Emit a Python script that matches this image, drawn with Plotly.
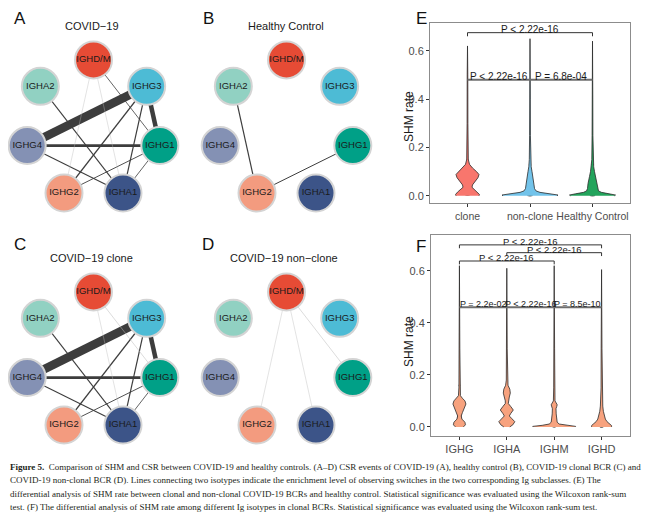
import numpy as np
import plotly.graph_objects as go

# page body has an 8px margin: the figure is drawn from (8, 8) of the window
OFF = 8
W, H = 650 - OFF, 512 - OFF

# ---------------- data ----------------
nodes = ["IGHD/M", "IGHG3", "IGHG1", "IGHA1", "IGHG2", "IGHG4", "IGHA2"]
node_colors = ["#E64B35", "#4DBBD5", "#00A087", "#3C5488", "#F39B7F", "#8491B4", "#91D1C2"]

edges_covid = [("IGHG4", "IGHG3", 8.5), ("IGHG3", "IGHG1", 4.5), ("IGHG4", "IGHG1", 2.6),
               ("IGHG3", "IGHG2", 1.4), ("IGHG3", "IGHA1", 1.2), ("IGHA2", "IGHA1", 1.1),
               ("IGHG4", "IGHA1", 1.1), ("IGHG1", "IGHG2", 0.9), ("IGHG1", "IGHA1", 0.8),
               ("IGHD/M", "IGHG1", 0.8), ("IGHD/M", "IGHG2", 0.4), ("IGHD/M", "IGHA1", 0.4)]
edges_healthy = [("IGHA2", "IGHG2", 1.2), ("IGHG1", "IGHG2", 1.0)]
edges_clone = [("IGHG4", "IGHG3", 8.5), ("IGHG3", "IGHG1", 4.5), ("IGHG4", "IGHG1", 2.6),
               ("IGHG3", "IGHG2", 1.4), ("IGHG3", "IGHA1", 1.2), ("IGHA2", "IGHA1", 1.1),
               ("IGHG4", "IGHA1", 1.1), ("IGHG1", "IGHG2", 0.9), ("IGHG1", "IGHA1", 0.8),
               ("IGHD/M", "IGHG1", 0.5), ("IGHD/M", "IGHA1", 0.4)]
edges_nonclone = [("IGHD/M", "IGHG2", 0.4), ("IGHD/M", "IGHA1", 0.4), ("IGHD/M", "IGHG1", 0.5)]

# Panel E: SHM rate violins (levels and relative half-width density)
e_groups = ["clone", "non-clone", "Healthy Control"]
e_colors = ["#F8766D", "#72C3EA", "#23A45C"]
clone_lvl = [0.0, 0.005, 0.015, 0.025, 0.035, 0.045, 0.06, 0.075, 0.088, 0.1, 0.115, 0.13, 0.15, 0.2, 0.3, 0.5, 0.62]
clone_den = [11.5, 12, 10, 7, 4.5, 5, 8, 10.5, 11.5, 9, 5, 2, 0.8, 0.5, 0.4, 0.3, 0.0]
nonclone_lvl = [0.0, 0.003, 0.008, 0.014, 0.02, 0.03, 0.045, 0.06, 0.08, 0.1, 0.12, 0.15, 0.25, 0.4, 0.65]
nonclone_den = [27, 28, 20, 10, 6, 4.5, 4, 3.6, 3, 2, 1.2, 0.7, 0.4, 0.3, 0.0]
hc_lvl = [0.0, 0.003, 0.008, 0.014, 0.02, 0.03, 0.05, 0.065, 0.08, 0.1, 0.12, 0.15, 0.25, 0.4, 0.64]
hc_den = [22, 23, 17, 9, 6, 5, 4.5, 4, 3, 2, 1.2, 0.7, 0.4, 0.3, 0.0]
e_q1 = [0.003, 0.0, 0.0]
e_med = [0.03, 0.005, 0.01]
e_q3 = [0.085, 0.055, 0.057]
e_upper = [0.15, 0.13, 0.13]
e_pairs = [(0, 2, 0.675, "P < 2.22e-16")]
e_flat = [(0, 1, 0.48, "P < 2.22e-16"), (1, 2, 0.48, "P = 6.8e-04")]

# Panel F: SHM rate by isotype in clonal BCRs
f_groups = ["IGHG", "IGHA", "IGHM", "IGHD"]
f_color = "#F7A27E"
ighg_lvl = [0.0, 0.008, 0.018, 0.03, 0.042, 0.055, 0.07, 0.088, 0.1, 0.11, 0.12, 0.15, 0.3, 0.62]
ighg_den = [4, 6, 5.5, 2.5, 1.8, 3, 5, 6.5, 5.5, 3, 1, 0.5, 0.4, 0.0]
igha_lvl = [0.0, 0.008, 0.02, 0.032, 0.042, 0.052, 0.065, 0.078, 0.09, 0.1, 0.115, 0.13, 0.145, 0.16, 0.18, 0.3, 0.61]
igha_den = [3, 6, 8, 5, 2.5, 4, 6.5, 4, 1.5, 1.5, 2.5, 3.5, 3, 1.2, 0.5, 0.4, 0.0]
ighm_lvl = [0.0, 0.002, 0.006, 0.011, 0.018, 0.03, 0.05, 0.07, 0.078, 0.085, 0.092, 0.1, 0.15, 0.3, 0.62]
ighm_den = [21, 21.5, 12, 5, 3, 2.5, 2, 1.8, 2.5, 3, 2, 0.8, 0.5, 0.4, 0.0]
ighd_lvl = [0.0, 0.005, 0.012, 0.02, 0.03, 0.045, 0.06, 0.08, 0.1, 0.15, 0.3, 0.605]
ighd_den = [10, 10, 8, 5.5, 3.8, 2.5, 1.8, 1.2, 0.8, 0.5, 0.4, 0.0]
f_q1 = [0.01, 0.02, 0.0, 0.0]
f_med = [0.07, 0.06, 0.01, 0.0]
f_q3 = [0.095, 0.07, 0.035, 0.003]
f_upper = [0.16, 0.15, 0.08, 0.01]
f_pairs = [(0, 3, 0.70, "P < 2.22e-16"), (1, 3, 0.67, "P < 2.22e-16"), (0, 2, 0.638, "P < 2.22e-16")]
f_flat = [(0, 1, 0.46, "P = 2.2e-02"), (1, 2, 0.46, "P < 2.22e-16"), (2, 3, 0.46, "P = 8.5e-10")]

caption_lines = [
    "<b>Figure 5.</b>  Comparison of SHM and CSR between COVID-19 and healthy controls. (A–D) CSR events of COVID-19 (A), healthy control (B), COVID-19 clonal BCR (C) and",
    "COVID-19 non-clonal BCR (D). Lines connecting two isotypes indicate the enrichment level of observing switches in the two corresponding Ig subclasses. (E) The",
    "differential analysis of SHM rate between clonal and non-clonal COVID-19 BCRs and healthy control. Statistical significance was evaluated using the Wilcoxon rank-sum",
    "test. (F) The differential analysis of SHM rate among different Ig isotypes in clonal BCRs. Statistical significance was evaluated using the Wilcoxon rank-sum test.",
]

# ---------------- helpers ----------------
def fx(p):
    return (p - OFF) / W

def fy(p):
    return 1 - (p - OFF) / H

FONT = "Liberation Sans, Arial, sans-serif"
fig = go.Figure()
annotations = []
layout = {}

# circular layout of nodes (clockwise from top)
theta = 2 * np.pi * np.arange(len(nodes)) / len(nodes)
node_x = np.sin(theta)
node_y = np.cos(theta)
pos = {n: (node_x[i], node_y[i]) for i, n in enumerate(nodes)}

RX, RY, HALF = 68.0, 70.0, 85.0
panels = [
    (1, edges_covid, "COVID−19", "A", 93.5, 130, (92, 26), (20, 8)),
    (2, edges_healthy, "Healthy Control", "B", 286.5, 130, (286, 26), (208, 8)),
    (3, edges_clone, "COVID−19 clone", "C", 93.5, 362, (92, 258), (20, 234)),
    (4, edges_nonclone, "COVID−19 non−clone", "D", 286.5, 362, (284, 258), (208, 234)),
]
for k, edges, title, letter, cx, cy, tpos, lpos in panels:
    xa = "x" if k == 1 else f"x{k}"
    ya = "y" if k == 1 else f"y{k}"
    for a, b, w in edges:
        col = "#b8b8b8" if w < 0.6 else "#3d3d3d"
        fig.add_trace(go.Scatter(x=[pos[a][0], pos[b][0]], y=[pos[a][1], pos[b][1]], mode="lines",
                                 line=dict(color=col, width=w), xaxis=xa, yaxis=ya,
                                 showlegend=False, hoverinfo="skip"))
    fig.add_trace(go.Scatter(x=node_x, y=node_y, mode="markers+text", text=nodes,
                             textposition="middle center",
                             textfont=dict(family=FONT, size=9.5, color="#1a1a1a"),
                             marker=dict(size=37, color=node_colors, line=dict(color="#d4d4d4", width=2)),
                             xaxis=xa, yaxis=ya, showlegend=False, cliponaxis=False, hoverinfo="text"))
    kx = "xaxis" if k == 1 else f"xaxis{k}"
    ky = "yaxis" if k == 1 else f"yaxis{k}"
    layout[kx] = dict(domain=[fx(cx - HALF), fx(cx + HALF)], range=[-HALF / RX, HALF / RX],
                      visible=False, anchor=ya)
    layout[ky] = dict(domain=[fy(cy + HALF), fy(cy - HALF)], range=[-HALF / RY, HALF / RY],
                      visible=False, anchor=xa)
    annotations.append(dict(x=fx(tpos[0]), y=fy(tpos[1]), xref="paper", yref="paper", text=title,
                            showarrow=False, font=dict(family=FONT, size=11, color="#1a1a1a"),
                            xanchor="center", yanchor="middle"))
    annotations.append(dict(x=fx(lpos[0]), y=fy(lpos[1]), xref="paper", yref="paper", text=letter,
                            showarrow=False, font=dict(family=FONT, size=17, color="#111"),
                            xanchor="center", yanchor="top", borderpad=0))


def add_violins(levels, dens, colors, q1, med, q3, upper, xa, ya, scale):
    for i, (lv, dn) in enumerate(zip(levels, dens)):
        lv = np.asarray(lv)
        hw = np.asarray(dn) * scale
        xs = np.concatenate([i - hw, (i + hw)[::-1]])
        ys = np.concatenate([lv, lv[::-1]])
        fig.add_trace(go.Scatter(x=xs, y=ys, mode="lines", fill="toself", fillcolor=colors[i],
                                 line=dict(color="#2b2b2b", width=0.8), xaxis=xa, yaxis=ya,
                                 showlegend=False, hoverinfo="skip"))
    for i in range(len(levels)):
        fig.add_trace(go.Box(x=[i], q1=[q1[i]], median=[med[i]], q3=[q3[i]], lowerfence=[q1[i]],
                             upperfence=[upper[i]], width=0.07, fillcolor="white",
                             line=dict(color="#333333", width=0.8), boxpoints=False,
                             xaxis=xa, yaxis=ya, showlegend=False, hoverinfo="skip"))


def add_brackets(pairs, flat, xa, ya, tick, size_top, size_flat):
    for a, b, yv, txt in pairs:
        fig.add_trace(go.Scatter(x=[a, a, b, b], y=[yv - tick, yv, yv, yv - tick], mode="lines",
                                 line=dict(color="#333333", width=1), xaxis=xa, yaxis=ya,
                                 showlegend=False, hoverinfo="skip"))
        annotations.append(dict(x=(a + b) / 2, y=yv, xref=xa, yref=ya, text=txt, showarrow=False,
                                yanchor="bottom", yshift=-3, borderpad=0,
                                font=dict(family=FONT, size=size_top, color="#1a1a1a")))
    xs = [min(p[0] for p in flat), max(p[1] for p in flat)]
    fig.add_trace(go.Scatter(x=xs, y=[flat[0][2]] * 2, mode="lines", line=dict(color="#6e6e6e", width=2),
                             xaxis=xa, yaxis=ya, showlegend=False, hoverinfo="skip"))
    for a, b, yv, txt in flat:
        annotations.append(dict(x=(a + b) / 2, y=yv, xref=xa, yref=ya, text=txt, showarrow=False,
                                yanchor="bottom", yshift=-3, borderpad=0,
                                font=dict(family=FONT, size=size_flat, color="#1a1a1a")))


add_violins([clone_lvl, nonclone_lvl, hc_lvl], [clone_den, nonclone_den, hc_den], e_colors,
            e_q1, e_med, e_q3, e_upper, "x5", "y5", 1 / 62.5)
add_brackets(e_pairs, e_flat, "x5", "y5", 0.015, 10, 10)
add_violins([ighg_lvl, igha_lvl, ighm_lvl, ighd_lvl], [ighg_den, igha_den, ighm_den, ighd_den],
            [f_color] * 4, f_q1, f_med, f_q3, f_upper, "x6", "y6", 1 / 47.4)
add_brackets(f_pairs, f_flat, "x6", "y6", 0.013, 9.5, 9)

axis_common = dict(showline=True, mirror=True, linecolor="#8c8c8c", linewidth=1, showgrid=False,
                   zeroline=False, ticks="outside", ticklen=3, tickcolor="#333333",
                   tickfont=dict(family=FONT, size=11, color="#4d4d4d"))
layout["xaxis5"] = dict(axis_common, domain=[fx(430), fx(630)], range=[-0.6, 2.6], anchor="y5",
                        tickvals=[0, 1, 2], ticktext=e_groups,
                        tickfont=dict(family=FONT, size=10.5, color="#4d4d4d"))
layout["yaxis5"] = dict(axis_common, domain=[fy(203), fy(23)], range=[-0.03, 0.715], anchor="x5",
                        tickvals=[0, 0.2, 0.4, 0.6], ticktext=["0.0", "0.2", "0.4", "0.6"])
layout["xaxis6"] = dict(axis_common, domain=[fx(431), fx(630)], range=[-0.6, 3.6], anchor="y6",
                        tickvals=[0, 1, 2, 3], ticktext=f_groups)
layout["yaxis6"] = dict(axis_common, domain=[fy(436), fy(235)], range=[-0.035, 0.738], anchor="x6",
                        tickvals=[0, 0.2, 0.4, 0.6], ticktext=["0.0", "0.2", "0.4", "0.6"])

for txt, yy in [("SHM rate", 117), ("SHM rate", 342)]:
    annotations.append(dict(x=fx(409), y=fy(yy), xref="paper", yref="paper", text=txt, textangle=-90,
                            showarrow=False, font=dict(family=FONT, size=12, color="#1a1a1a"),
                            xanchor="center", yanchor="middle"))
for letter, (lx, ly) in [("E", (421, 8)), ("F", (421, 236))]:
    annotations.append(dict(x=fx(lx), y=fy(ly), xref="paper", yref="paper", text=letter, showarrow=False,
                            font=dict(family=FONT, size=17, color="#111"), xanchor="center", yanchor="top",
                            borderpad=0))

for i, line in enumerate(caption_lines):
    annotations.append(dict(x=fx(8), y=fy(467 + i * 13.4), xref="paper", yref="paper", text=line,
                            showarrow=False, xanchor="left", yanchor="middle",
                            font=dict(family="Liberation Serif, serif", size=9.0, color="#231f20")))

fig.update_layout(width=W, height=H, margin=dict(l=0, r=0, t=0, b=0), paper_bgcolor="white",
                  plot_bgcolor="white", annotations=annotations, showlegend=False, **layout)
fig.write_html("out.html")
